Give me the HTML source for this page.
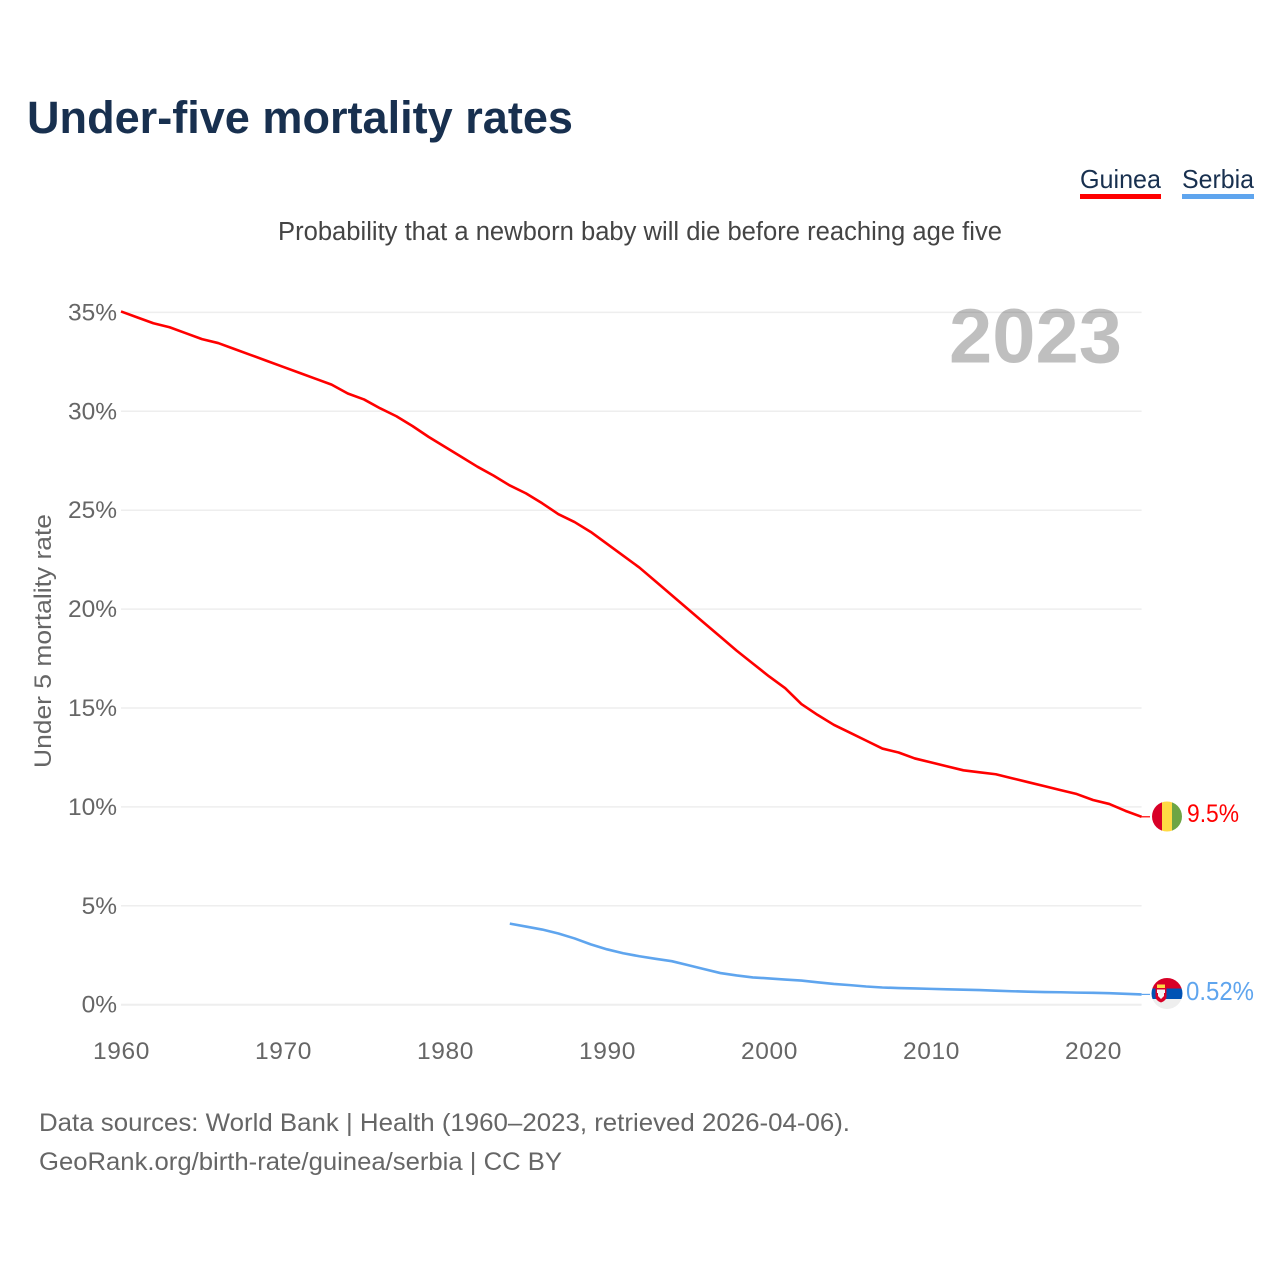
<!DOCTYPE html>
<html lang="en">
<head>
<meta charset="utf-8">
<title>Under-five mortality rates</title>
<style>
html,body{margin:0;padding:0;background:#fff;}
svg{display:block;font-family:"Liberation Sans",Arial,sans-serif;}
</style>
</head>
<body>
<svg id="chart" xmlns="http://www.w3.org/2000/svg" width="1280" height="1280" viewBox="0 0 1280 1280">
  <rect width="1280" height="1280" fill="#ffffff"/>
  <text x="27" y="133" font-size="45" font-weight="700" fill="#18304f" textLength="546" lengthAdjust="spacingAndGlyphs">Under-five mortality rates</text>

  <g>
    <text x="1080" y="188" font-size="26" fill="#18304f" textLength="81" lengthAdjust="spacingAndGlyphs">Guinea</text>
    <rect x="1080" y="194" width="81" height="5" fill="#ff0000"/>
  </g>
  <g>
    <text x="1182" y="188" font-size="26" fill="#18304f" textLength="72" lengthAdjust="spacingAndGlyphs">Serbia</text>
    <rect x="1182" y="194" width="72" height="5" fill="#5fa5ee"/>
  </g>

  <text x="278" y="240" font-size="25.5" fill="#444444" textLength="724" lengthAdjust="spacingAndGlyphs">Probability that a newborn baby will die before reaching age five</text>

  <g id="grid"></g>
  <g id="yticks"></g>
  <g id="xticks"></g>

  <text x="949" y="362.500" font-size="77" font-weight="700" fill="#000000" fill-opacity="0.25" textLength="173" lengthAdjust="spacingAndGlyphs">2023</text>

  <text transform="translate(51,768) rotate(-90)" x="0" y="0" font-size="24.5" fill="#666666" textLength="254" lengthAdjust="spacingAndGlyphs">Under 5 mortality rate</text>

  <g id="series"></g>

  <defs>
    <clipPath id="clip-guinea"><circle cx="1167" cy="816.5" r="15"/></clipPath>
    <clipPath id="clip-serbia"><circle cx="1167" cy="993.5" r="15.5"/></clipPath>
  </defs>

  <g clip-path="url(#clip-guinea)">
    <rect x="1152" y="801" width="10" height="31" fill="#d80027"/>
    <rect x="1162" y="801" width="10" height="31" fill="#ffda44"/>
    <rect x="1172" y="801" width="10" height="31" fill="#6da544"/>
  </g>
  <g clip-path="url(#clip-serbia)">
    <rect x="1151" y="978" width="32" height="10.500" fill="#d80027"/>
    <rect x="1151" y="988.500" width="32" height="10.500" fill="#0052b4"/>
    <rect x="1151" y="999" width="32" height="10.500" fill="#eeeeee"/>
    <path d="M1155.500 988h11v8.500q0 4-5.500 6q-5.500-2-5.500-6z" fill="#d80027"/>
    <rect x="1157" y="984.500" width="8" height="3.500" fill="#ffda44"/>
    <path d="M1157 989.500h8v3.500h-1v3l-3 3l-3-3v-3h-1z" fill="#f4f4f4"/>
  </g>

  <text x="1187" y="822" font-size="25" fill="#ff0000" textLength="52" lengthAdjust="spacingAndGlyphs">9.5%</text>
  <text x="1186" y="1000" font-size="25.500" fill="#5fa5ee" textLength="68" lengthAdjust="spacingAndGlyphs">0.52%</text>

  <text x="39" y="1131" font-size="25" fill="#666666" textLength="811" lengthAdjust="spacingAndGlyphs">Data sources: World Bank | Health (1960–2023, retrieved 2026-04-06).</text>
  <text x="39" y="1170" font-size="25" fill="#666666" textLength="523" lengthAdjust="spacingAndGlyphs">GeoRank.org/birth-rate/guinea/serbia | CC BY</text>
</svg>

<script>
const years = [1960,1961,1962,1963,1964,1965,1966,1967,1968,1969,1970,1971,1972,1973,1974,1975,1976,1977,1978,1979,1980,1981,1982,1983,1984,1985,1986,1987,1988,1989,1990,1991,1992,1993,1994,1995,1996,1997,1998,1999,2000,2001,2002,2003,2004,2005,2006,2007,2008,2009,2010,2011,2012,2013,2014,2015,2016,2017,2018,2019,2020,2021,2022,2023];
const guineaValues = [35.05,34.75,34.45,34.25,33.95,33.65,33.45,33.15,32.85,32.55,32.25,31.95,31.65,31.35,30.9,30.6,30.15,29.75,29.25,28.7,28.2,27.7,27.2,26.75,26.25,25.85,25.35,24.8,24.4,23.9,23.3,22.7,22.1,21.4,20.7,20.0,19.3,18.6,17.9,17.25,16.6,16.0,15.2,14.65,14.15,13.75,13.35,12.95,12.75,12.45,12.25,12.05,11.85,11.75,11.65,11.45,11.25,11.05,10.85,10.65,10.35,10.15,9.8,9.5];
const serbiaValues = [null,null,null,null,null,null,null,null,null,null,null,null,null,null,null,null,null,null,null,null,null,null,null,null,4.1,3.95,3.8,3.6,3.35,3.05,2.8,2.6,2.45,2.32,2.2,2.0,1.8,1.6,1.48,1.38,1.33,1.27,1.22,1.13,1.05,0.99,0.92,0.87,0.84,0.82,0.8,0.78,0.76,0.74,0.71,0.68,0.66,0.64,0.63,0.61,0.6,0.58,0.55,0.52];
const yTickValues = [0,5,10,15,20,25,30,35];
const yTickLabels = ["0%","5%","10%","15%","20%","25%","30%","35%"];
const xTickValues = [1960,1970,1980,1990,2000,2010,2020];
const xTickLabels = ["1960","1970","1980","1990","2000","2010","2020"];

const NS = 'http://www.w3.org/2000/svg';
function xScale(year){ return 121 + (year - 1960) * (1020.6 / 63); }
function yScale(v){ return 1004.7 - v * 19.78; }
function make(tag, attrs, parent){
  const el = document.createElementNS(NS, tag);
  for (const k in attrs) el.setAttribute(k, attrs[k]);
  parent.appendChild(el);
  return el;
}

const grid = document.getElementById('grid');
const yticks = document.getElementById('yticks');
yTickValues.forEach(function(v, i){
  const line = make('line', {x1: 121, x2: 1141.6, y1: yScale(v), y2: yScale(v), stroke: '#eeeeee', 'stroke-width': v === 0 ? 2 : 1.5}, grid);
  
  
  const t = make('text', {x: 117, y: yScale(v) + 8, 'text-anchor': 'end', 'font-size': 24.5, fill: '#666666'}, yticks);
  
  
  t.textContent = yTickLabels[i];
});

const xticks = document.getElementById('xticks');
xTickValues.forEach(function(v, i){
  const t = make('text', {x: xScale(v) + 0.5, y: 1059, 'text-anchor': 'middle', 'font-size': 24.5, 'letter-spacing': 0.6, fill: '#666666'}, xticks);
  
  
  t.textContent = xTickLabels[i];
});

function drawSeries(values, color, lineName, connectorName){
  const group = document.getElementById('series');
  const pts = [];
  values.forEach(function(v, i){
    if (v !== null) pts.push(xScale(years[i]).toFixed(2) + ',' + yScale(v).toFixed(2));
  });
  const line = make('polyline', {points: pts.join(' '), fill: 'none', stroke: color, 'stroke-width': 2.6, 'stroke-linejoin': 'round'}, group);
  
  
  const last = values[values.length - 1];
  const lastYear = years[years.length - 1];
  const conn = make('line', {x1: xScale(lastYear), x2: 1150, y1: yScale(last), y2: yScale(last), stroke: color, 'stroke-width': 1.2}, group);
  
  
}
drawSeries(guineaValues, '#ff0000', 'series-line-guinea', 'connector-guinea');
drawSeries(serbiaValues, '#5fa5ee', 'series-line-serbia', 'connector-serbia');
</script>
</body>
</html>
